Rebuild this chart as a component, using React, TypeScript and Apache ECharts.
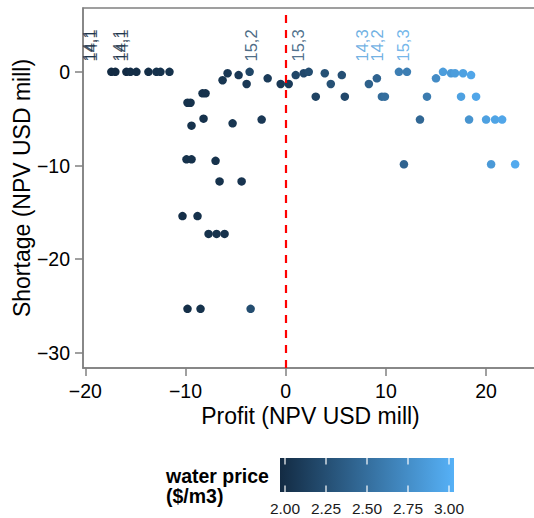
import React, { useEffect, useRef } from "react";
import * as echarts from "echarts";

// Scenario outcomes: profit vs. shortage, coloured by water price
const profit = [
  -17.4, -17.0, -15.9, -15.5, -14.9, -13.7, -12.9, -12.5, -11.6,
  -9.8, -9.5, -8.3, -8.0, -9.4, -8.2, -6.3, -5.8, -5.3, -4.7, -3.9, -3.6, -2.4, -1.8, -0.5, 0.3,
  1.0, 1.8, 2.3, 3.0, 3.9, 4.5, 5.6, 5.9, 8.3, 9.1, 9.6, 9.9, 11.3, 12.1, 13.4, 14.1, 15.0,
  15.7, 16.5, 16.9, 17.7, 18.5, 17.5, 19.0, 18.3, 20.0, 20.9, 21.6, 11.8, 20.5, 22.9,
  -9.9, -9.4, -7.0, -6.6, -4.4, -10.3, -8.8, -7.7, -6.9, -6.1, -9.8, -8.5, -3.5,
];
const shortage = [
  0, 0, 0, 0, 0, 0, 0, 0, 0,
  -3.3, -3.3, -2.3, -2.3, -5.75, -5.0, -0.9, -0.15, -5.5, -0.35, -1.3, 0, -5.1, -0.7, -1.3, -1.3,
  -0.35, -0.15, 0, -2.65, -0.15, -1.3, -0.35, -2.65, -1.3, -0.7, -2.65, -2.65, 0, 0, -5.1, -2.65, -0.7,
  0, -0.15, -0.15, -0.15, -0.35, -2.65, -2.65, -5.1, -5.1, -5.1, -5.1, -9.87, -9.87, -9.87,
  -9.34, -9.34, -9.5, -11.7, -11.7, -15.4, -15.4, -17.3, -17.3, -17.3, -25.3, -25.3, -25.3,
];
const waterPrice = [
  2.0, 2.0, 2.0, 2.02, 2.02, 2.02, 2.05, 2.05, 2.05,
  2.05, 2.05, 2.05, 2.05, 2.05, 2.05, 2.08, 2.1, 2.08, 2.1, 2.1, 2.2, 2.1, 2.12, 2.1, 2.12,
  2.2, 2.22, 2.25, 2.18, 2.28, 2.28, 2.27, 2.22, 2.4, 2.42, 2.48, 2.5, 2.62, 2.62, 2.45, 2.6, 2.72,
  2.85, 2.82, 2.85, 2.88, 2.92, 2.88, 2.92, 2.78, 2.88, 2.9, 2.92, 2.42, 2.82, 2.95,
  2.05, 2.05, 2.05, 2.05, 2.07, 2.03, 2.05, 2.05, 2.05, 2.05, 2.03, 2.05, 2.25,
];

// Scenario tags written above the zero-shortage row
const tagText = ["14,1", "14,1", "14,1", "14,1", "15,2", "15,3", "14,3", "14,2", "15,3"];
const tagProfit = [-19.6, -19.4, -16.6, -16.3, -3.5, 1.2, 7.6, 9.1, 11.75];
const tagPrice = [2.0, 2.0, 2.0, 2.0, 2.2, 2.25, 2.85, 2.85, 2.9];
const tagShortage = 1.1;

const xTicks = [-20, -10, 0, 10, 20];
const yTicks = [-30, -20, -10, 0];
const priceTicks = [2.0, 2.25, 2.5, 2.75, 3.0];

const LOW = "#132B43";
const HIGH = "#56B1F7";
const FONT = "Liberation Sans, Arial, Helvetica, sans-serif";
const FRAME = "#808080";

function hexToRgb(h: string) {
  const n = parseInt(h.slice(1), 16);
  return [(n >> 16) & 255, (n >> 8) & 255, n & 255];
}
function priceColor(p: number) {
  const t = Math.max(0, Math.min(1, (p - 2) / 1));
  const a = hexToRgb(LOW);
  const b = hexToRgb(HIGH);
  const c = a.map((v, i) => Math.round(v + (b[i] - v) * t));
  return `rgb(${c[0]},${c[1]},${c[2]})`;
}
const minusFmt = (v: number) => (v < 0 ? "\u2212" + Math.abs(v) : String(v));

export default function App() {
  const ref = useRef<HTMLDivElement>(null);

  useEffect(() => {
    if (!ref.current) return;
    const chart = echarts.init(ref.current, undefined, { renderer: "svg" });

    const points = profit.map((x, i) => [x, shortage[i], waterPrice[i]]);
    const tags = tagText.map((t, i) => ({
      value: [tagProfit[i], tagShortage],
      name: t,
      label: { color: priceColor(tagPrice[i]) },
    }));

    // colour bar geometry
    const barX = 280, barY = 458, barW = 174, barH = 34;
    const p2x = (p: number) => 285 + (p - 2) * 164;

    const legend: any[] = [
      {
        type: "rect",
        shape: { x: barX, y: barY, width: barW, height: barH },
        style: {
          fill: new echarts.graphic.LinearGradient(0, 0, 1, 0, [
            { offset: 0, color: LOW },
            { offset: 1, color: HIGH },
          ]),
        },
      },
      {
        type: "text",
        left: 166,
        top: 466,
        style: {
          text: "water price\n($/m3)",
          font: `bold 19.5px ${FONT}`,
          lineHeight: 20,
          fill: "#000",
        },
      },
    ];
    priceTicks.forEach((p) => {
      const x = p2x(p);
      legend.push(
        { type: "line", shape: { x1: x, y1: barY, x2: x, y2: barY + 6.5 }, style: { stroke: "#fff", lineWidth: 1.2 } },
        { type: "line", shape: { x1: x, y1: barY + barH - 6.5, x2: x, y2: barY + barH }, style: { stroke: "#fff", lineWidth: 1.2 } },
        {
          type: "text",
          x,
          y: 508,
          style: {
            text: p.toFixed(2),
            font: `15.5px ${FONT}`,
            fill: "#1a1a1a",
            align: "center",
            verticalAlign: "middle",
          },
        }
      );
    });

    chart.setOption({
      animation: false,
      backgroundColor: "#fff",
      grid: {
        left: 83,
        top: 8,
        width: 455,
        height: 360,
        containLabel: false,
        outerBoundsMode: "none",
        show: true,
        borderColor: FRAME,
        borderWidth: 1.5,
        backgroundColor: "transparent",
      },
      xAxis: {
        type: "value",
        min: -20.23,
        max: 25.18,
        name: "Profit (NPV USD mill)",
        nameLocation: "middle",
        nameGap: 36,
        nameMoveOverlap: false,
        nameTextStyle: { fontFamily: FONT, fontSize: 23, color: "#000" },
        axisLine: { show: true, onZero: false, lineStyle: { color: FRAME, width: 1.5 } },
        splitLine: { show: false },
        axisTick: { show: true, length: 8, customValues: xTicks, lineStyle: { color: FRAME, width: 1.5 } },
        axisLabel: {
          customValues: xTicks,
          margin: 13,
          fontFamily: FONT,
          fontSize: 19.5,
          color: "#000",
          formatter: minusFmt,
        },
      },
      yAxis: {
        type: "value",
        min: -31.61,
        max: 6.81,
        name: "Shortage (NPV USD mill)",
        nameLocation: "middle",
        nameGap: 50,
        nameMoveOverlap: false,
        nameTextStyle: { fontFamily: FONT, fontSize: 23, color: "#000" },
        axisLine: { show: true, onZero: false, lineStyle: { color: FRAME, width: 1.5 } },
        splitLine: { show: false },
        axisTick: { show: true, length: 8, customValues: yTicks, lineStyle: { color: FRAME, width: 1.5 } },
        axisLabel: {
          customValues: yTicks,
          margin: 13,
          fontFamily: FONT,
          fontSize: 19.5,
          color: "#000",
          formatter: minusFmt,
        },
      },
      visualMap: {
        show: false,
        type: "continuous",
        min: 2,
        max: 3,
        dimension: 2,
        seriesIndex: 0,
        inRange: { color: [LOW, HIGH] },
      },
      series: [
        {
          type: "scatter",
          data: points,
          symbolSize: 8.5,
          itemStyle: { opacity: 1 },
          markLine: {
            silent: true,
            symbol: ["none", "none"],
            label: { show: false },
            lineStyle: { color: "#ff0000", type: [8, 7], width: 2.2 },
            data: [{ xAxis: 0 }],
          },
        },
        {
          type: "scatter",
          data: tags,
          symbolSize: 1,
          itemStyle: { color: "transparent" },
          label: {
            show: true,
            position: "inside",
            rotate: 90,
            align: "left",
            verticalAlign: "middle",
            fontFamily: FONT,
            fontSize: 16.5,
            formatter: (p: any) => p.name,
          },
        },
      ],
      graphic: legend,
    });

    return () => chart.dispose();
  }, []);

  return (
    <div
      ref={ref}
      style={{ position: "absolute", left: 0, top: 0, width: 534, height: 518 }}
    />
  );
}
